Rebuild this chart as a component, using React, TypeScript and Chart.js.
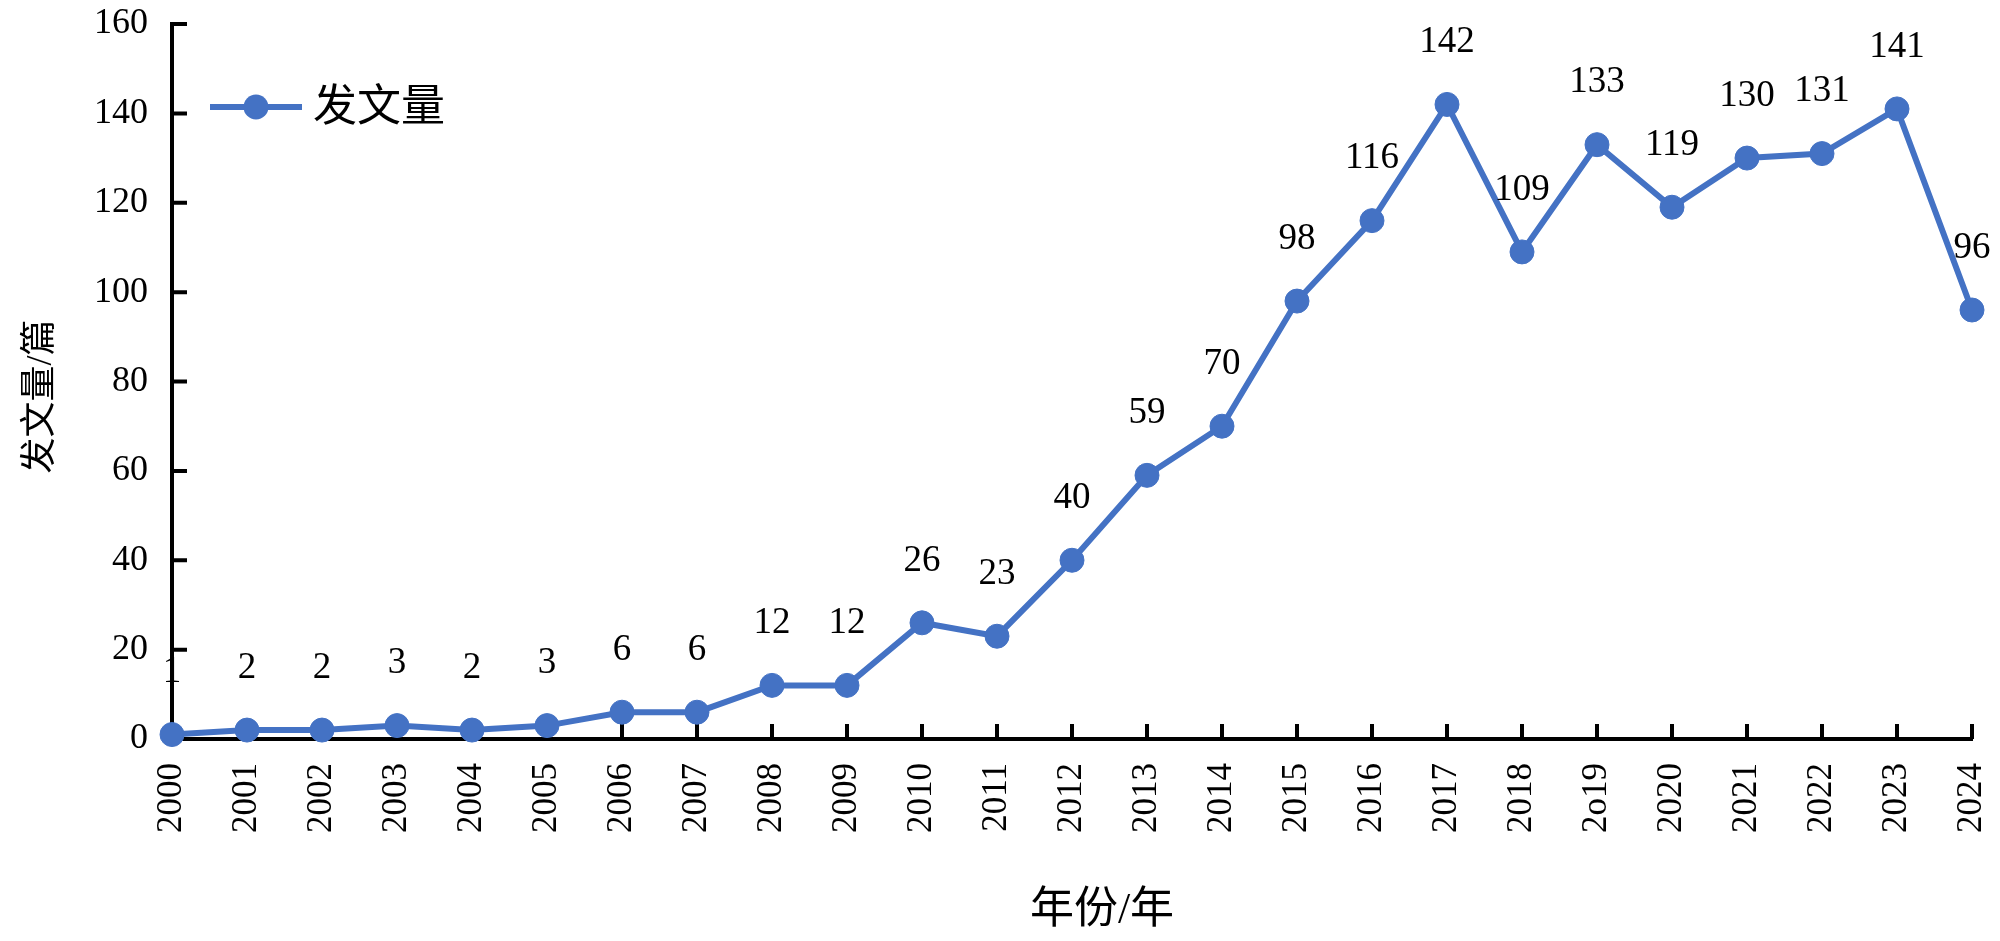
import React, { useEffect, useRef } from "react";
import { Chart, registerables } from "chart.js";

Chart.register(...registerables);

const years = [
  "2000", "2001", "2002", "2003", "2004", "2005", "2006", "2007", "2008", "2009",
  "2010", "2011", "2012", "2013", "2014", "2015", "2016", "2017", "2018", "2019",
  "2020", "2021", "2022", "2023", "2024",
];
const yearTickLabels = [
  "2000", "2001", "2002", "2003", "2004", "2005", "2006", "2007", "2008", "2009",
  "2010", "2011", "2012", "2013", "2014", "2015", "2016", "2017", "2018", "2o19",
  "2020", "2021", "2022", "2023", "2024",
];
const counts = [1, 2, 2, 3, 2, 3, 6, 6, 12, 12, 26, 23, 40, 59, 70, 98, 116, 142, 109, 133, 119, 130, 131, 141, 96];
const seriesName = "发文量";
const xTitle = "年份/年";
const yTitle = "发文量/篇";
const yMin = 0;
const yMax = 160;
const yStep = 20;

const BLUE = "#4472C4";
const FONT = "'Liberation Serif', 'Noto Sans CJK SC', serif";

const insideTicks = {
  id: "insideTicks",
  beforeDatasetsDraw(chart: any) {
    const ctx = chart.ctx;
    const x = chart.scales.x;
    const y = chart.scales.y;
    const area = chart.chartArea;
    ctx.save();
    ctx.strokeStyle = "#000";
    ctx.lineWidth = 4;
    ctx.beginPath();
    x.ticks.forEach((_t: any, i: number) => {
      const px = x.getPixelForTick(i);
      ctx.moveTo(px, area.bottom);
      ctx.lineTo(px, area.bottom - 15);
    });
    y.ticks.forEach((_t: any, i: number) => {
      const py = y.getPixelForTick(i);
      ctx.moveTo(area.left, py);
      ctx.lineTo(area.left + 15, py);
    });
    ctx.stroke();
    ctx.restore();
  },
};

const valueLabels = {
  id: "valueLabels",
  afterDatasetsDraw(chart: any) {
    const ctx = chart.ctx;
    ctx.save();
    ctx.font = `37px ${FONT}`;
    ctx.fillStyle = "#000";
    ctx.textAlign = "center";
    ctx.textBaseline = "middle";
    chart.data.datasets.forEach((ds: any, di: number) => {
      const meta = chart.getDatasetMeta(di);
      meta.data.forEach((pt: any, i: number) => {
        ctx.fillText(String(ds.data[i]), pt.x, pt.y - 62);
      });
    });
    ctx.restore();
  },
};

const axisTitles = {
  id: "axisTitles",
  afterDraw(chart: any) {
    const ctx = chart.ctx;
    const area = chart.chartArea;
    ctx.save();
    ctx.fillStyle = "#000";
    ctx.textAlign = "center";
    ctx.textBaseline = "middle";
    ctx.font = `44px ${FONT}`;
    ctx.fillText(xTitle, (area.left + area.right) / 2 + 30, 911);
    ctx.translate(42, (area.top + area.bottom) / 2 + 15);
    ctx.rotate(-Math.PI / 2);
    ctx.font = `36px ${FONT}`;
    ctx.fillText(yTitle, 0, 0);
    ctx.restore();
  },
};

const innerLegend = {
  id: "innerLegend",
  afterDraw(chart: any) {
    const ctx = chart.ctx;
    const ds = chart.data.datasets[0];
    const y = 107;
    ctx.save();
    ctx.strokeStyle = ds.borderColor;
    ctx.lineWidth = ds.borderWidth;
    ctx.beginPath();
    ctx.moveTo(210, y);
    ctx.lineTo(302, y);
    ctx.stroke();
    ctx.fillStyle = ds.pointBackgroundColor;
    ctx.beginPath();
    ctx.arc(256, y, 12.5, 0, Math.PI * 2);
    ctx.fill();
    ctx.fillStyle = "#000";
    ctx.font = `44px ${FONT}`;
    ctx.textAlign = "left";
    ctx.textBaseline = "middle";
    ctx.fillText(ds.label, 313, y + 2);
    ctx.restore();
  },
};

export default function App() {
  const canvasRef = useRef<HTMLCanvasElement | null>(null);

  useEffect(() => {
    document.body.style.margin = "0";
    const canvas = canvasRef.current;
    if (!canvas) return;
    const chart = new Chart(canvas, {
      type: "line",
      data: {
        labels: years,
        datasets: [
          {
            label: seriesName,
            data: counts,
            borderColor: BLUE,
            backgroundColor: BLUE,
            pointBackgroundColor: BLUE,
            pointBorderColor: BLUE,
            borderWidth: 6,
            pointRadius: 12,
            pointBorderWidth: 1,
            tension: 0,
            clip: false as any,
          },
        ],
      },
      options: {
        responsive: false,
        animation: false,
        events: [],
        layout: { padding: { left: 0, top: 24, right: 28, bottom: 0 } },
        plugins: {
          legend: { display: false },
          tooltip: { enabled: false },
        },
        scales: {
          x: {
            type: "category",
            offset: false,
            grid: { display: false, drawTicks: false },
            border: { display: true, color: "#000", width: 4 },
            ticks: {
              autoSkip: false,
              minRotation: 90,
              maxRotation: 90,
              padding: 24,
              color: "#000",
              font: { family: FONT, size: 35 },
              callback: (_v: any, i: number) => yearTickLabels[i],
            },
            title: { display: false, text: xTitle },
            afterFit: (s: any) => {
              s.height = 202;
              s.paddingLeft = 0;
              s.paddingRight = 0;
            },
          },
          y: {
            min: yMin,
            max: yMax,
            grid: { display: false, drawTicks: false },
            border: { display: true, color: "#000", width: 4 },
            ticks: {
              stepSize: yStep,
              padding: 24,
              color: "#000",
              font: { family: FONT, size: 36 },
            },
            title: { display: false, text: yTitle },
            afterFit: (s: any) => {
              s.width = 172;
              s.paddingTop = 0;
              s.paddingBottom = 0;
            },
          },
        },
      },
      plugins: [insideTicks, valueLabels, axisTitles, innerLegend],
    });
    return () => chart.destroy();
  }, []);

  return (
    <div style={{ width: 2000, height: 941, background: "#fff" }}>
      <canvas ref={canvasRef} width={2000} height={941} style={{ display: "block" }} />
    </div>
  );
}
